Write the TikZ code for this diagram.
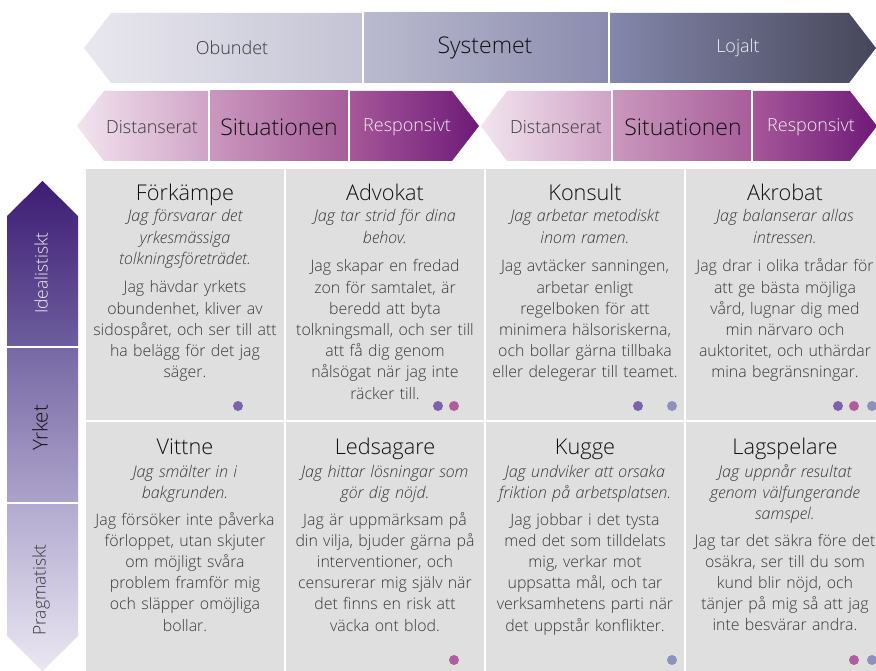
\documentclass[tikz,border=0pt]{standalone}
\usepackage{fontspec}
\IfFontExistsTF{Open Sans Light}{%
  \setmainfont{Open Sans}[UprightFont={* Light},ItalicFont={* Light Italic}]%
}{%
  \setmainfont{Open Sans}%
}
\definecolor{cellgray}{RGB}{223,223,223}
\definecolor{tA1}{HTML}{E9E8EF}\definecolor{tA2}{HTML}{C3C3D4}
\definecolor{tB1}{HTML}{BBBBCF}\definecolor{tB2}{HTML}{8A8BAE}
\definecolor{tC1}{HTML}{8587AB}\definecolor{tC2}{HTML}{46465A}
\definecolor{sA1}{HTML}{F2E4EE}\definecolor{sA2}{HTML}{CFA3C6}
\definecolor{sB1}{HTML}{CA98BE}\definecolor{sB2}{HTML}{A75D99}
\definecolor{sC1}{HTML}{A65899}\definecolor{sC2}{HTML}{6E1A78}
\definecolor{vA1}{HTML}{3E1C74}\definecolor{vA2}{HTML}{6D5E9D}
\definecolor{vB1}{HTML}{7768A5}\definecolor{vB2}{HTML}{ACA3CA}
\definecolor{vC1}{HTML}{B2AACF}\definecolor{vC2}{HTML}{EAE7F2}
\definecolor{dotP}{RGB}{123,99,170}
\definecolor{dotM}{RGB}{178,92,158}
\definecolor{dotL}{RGB}{142,144,190}
\definecolor{txt}{HTML}{383838}
\definecolor{ttl}{HTML}{101010}
\begin{document}
\begin{tikzpicture}[x=1pt,y=-1pt,
  lbl/.style={inner sep=0pt,anchor=center,text=txt,font=\fontsize{18}{21}\selectfont},
  biglbl/.style={inner sep=0pt,anchor=center,text=ttl,font=\fontsize{23}{27}\selectfont},
  whitelbl/.style={inner sep=0pt,anchor=center,text=white!94!black,font=\fontsize{18}{21}\selectfont},
  vlbl/.style={inner sep=0pt,anchor=center,text=txt,font=\fontsize{17.4}{20}\selectfont},
  vwhite/.style={inner sep=0pt,anchor=center,text=white!94!black,font=\fontsize{17.4}{20}\selectfont},
  vbig/.style={inner sep=0pt,anchor=center,text=ttl,font=\fontsize{20.5}{24}\selectfont},
  ttlnode/.style={inner sep=0pt,anchor=base,text=ttl,font=\fontsize{21.7}{25}\selectfont},
  itnode/.style={inner sep=0pt,anchor=base,text width=200pt,align=center,text=txt,font=\fontsize{16.1}{21.3}\selectfont\itshape},
  bodynode/.style={inner sep=0pt,anchor=base,text width=200pt,align=center,text=txt,font=\fontsize{15.9}{21.2}\selectfont},
  sep/.style={draw=white,line width=2pt}
]
\useasboundingbox (0,0) rectangle (876,671);
\clip (0,0) rectangle (876,671);
\fill[white] (0,0) rectangle (876,671);

% ---- top bar
\shade[left color=tA1,right color=tA2] (84,48) -- (111,13) -- (363,13) -- (363,83) -- (111,83) -- cycle;
\shade[left color=tB1,right color=tB2] (363,13) rectangle (609,83);
\shade[left color=tC1,right color=tC2] (609,13) -- (849,13) -- (876,48) -- (849,83) -- (609,83) -- cycle;
\draw[sep] (363,12) -- (363,84);
\draw[sep] (609,12) -- (609,84);
\node[lbl] (obundet) at (232,48) {Obundet};
\node[biglbl] (systemet) at (485,48) {Systemet};
\node[whitelbl] (lojalt) at (738,48) {Lojalt};

% ---- situation bars
\shade[left color=sA1,right color=sA2] (77,126) -- (104,91) -- (209,91) -- (209,161) -- (104,161) -- cycle;
\shade[left color=sB1,right color=sB2] (209,91) rectangle (349,161);
\shade[left color=sC1,right color=sC2] (349,91) -- (452,91) -- (479,126) -- (452,161) -- (349,161) -- cycle;
\shade[left color=sA1,right color=sA2] (481,126) -- (507,91) -- (612,91) -- (612,161) -- (507,161) -- cycle;
\shade[left color=sB1,right color=sB2] (612,91) rectangle (752,161);
\shade[left color=sC1,right color=sC2] (752,91) -- (850,91) -- (877,126) -- (850,161) -- (752,161) -- cycle;
\foreach \xx in {209,349,612,752} \draw[sep] (\xx,90) -- (\xx,162);
\node[lbl] (dist1) at (152,127) {Distanserat};
\node[biglbl] (sit1) at (279,127) {Situationen};
\node[whitelbl] (resp1) at (407,127) {Responsivt};
\node[lbl] (dist2) at (556,127) {Distanserat};
\node[biglbl] (sit2) at (683,127) {Situationen};
\node[whitelbl] (resp2) at (811,127) {Responsivt};

% ---- vertical bar
\shade[top color=vA1,bottom color=vA2] (42.5,181) -- (78,216) -- (78,347) -- (7,347) -- (7,216) -- cycle;
\shade[top color=vB1,bottom color=vB2] (7,347) rectangle (78,503);
\shade[top color=vC1,bottom color=vC2] (7,503) -- (78,503) -- (78,636) -- (42.5,671) -- (7,636) -- cycle;
\draw[sep] (6,347) -- (79,347);
\draw[sep] (6,503) -- (79,503);
\node[vwhite,rotate=90] (ideal) at (41,273) {Idealistiskt};
\node[vbig,rotate=90] (yrket) at (40,428) {Yrket};
\node[vlbl,rotate=90] (pragm) at (41,590) {Pragmatiskt};

% ---- cells
\foreach \cx in {86,286,486,686} {
  \fill[cellgray] (\cx,169) rectangle ++(198,251);
  \fill[cellgray] (\cx,422) rectangle ++(198,250);
}

% Förkämpe
\node[ttlnode] (t1) at (185,201) {Förkämpe};
\node[itnode] (i1) at (185,222) {Jag försvarar det\\yrkesmässiga\\tolkningsföreträdet.};
\node[bodynode] (b1) at (185,293) {Jag hävdar yrkets\\obundenhet, kliver av\\sidospåret, och ser till att\\ha belägg för det jag\\säger.};
% Advokat
\node[ttlnode] (t2) at (385,201) {Advokat};
\node[itnode] (i2) at (385,222) {Jag tar strid för dina\\behov.};
\node[bodynode] (b2) at (385,272) {Jag skapar en fredad\\zon för samtalet, är\\beredd att byta\\tolkningsmall, och ser till\\att få dig genom\\nålsögat när jag inte\\räcker till.};
% Konsult
\node[ttlnode] (t3) at (585,201) {Konsult};
\node[itnode] (i3) at (585,222) {Jag arbetar metodiskt\\inom ramen.};
\node[bodynode] (b3) at (585,272) {Jag avtäcker sanningen,\\arbetar enligt\\regelboken för att\\minimera hälsoriskerna,\\och bollar gärna tillbaka\\eller delegerar till teamet.};
% Akrobat
\node[ttlnode] (t4) at (785,201) {Akrobat};
\node[itnode] (i4) at (785,222) {Jag balanserar allas\\intressen.};
\node[bodynode] (b4) at (785,272) {Jag drar i olika trådar för\\att ge bästa möjliga\\vård, lugnar dig med\\min närvaro och\\auktoritet, och uthärdar\\mina begränsningar.};

% Vittne
\node[ttlnode] (t5) at (185,454) {Vittne};
\node[itnode] (i5) at (185,477) {Jag smälter in i\\bakgrunden.};
\node[bodynode] (b5) at (185,525) {Jag försöker inte påverka\\förloppet, utan skjuter\\om möjligt svåra\\problem framför mig\\och släpper omöjliga\\bollar.};
% Ledsagare
\node[ttlnode] (t6) at (385,454) {Ledsagare};
\node[itnode] (i6) at (385,477) {Jag hittar lösningar som\\gör dig nöjd.};
\node[bodynode] (b6) at (385,525) {Jag är uppmärksam på\\din vilja, bjuder gärna på\\interventioner, och\\censurerar mig själv när\\det finns en risk att\\väcka ont blod.};
% Kugge
\node[ttlnode] (t7) at (585,454) {Kugge};
\node[itnode] (i7) at (585,477) {Jag undviker att orsaka\\friktion på arbetsplatsen.};
\node[bodynode] (b7) at (585,525) {Jag jobbar i det tysta\\med det som tilldelats\\mig, verkar mot\\uppsatta mål, och tar\\verksamhetens parti när\\det uppstår konflikter.};
% Lagspelare
\node[ttlnode] (t8) at (785,454) {Lagspelare};
\node[itnode] (i8) at (785,477) {Jag uppnår resultat\\genom välfungerande\\samspel.};
\node[bodynode] (b8) at (785,546) {Jag tar det säkra före det\\osäkra, ser till du som\\kund blir nöjd, och\\tänjer på mig så att jag\\inte besvärar andra.};

% dots
\fill[dotP] (238,406) circle (5);
\fill[dotP] (438,406) circle (5);
\fill[dotM] (454,406) circle (5);
\fill[dotP] (638,406) circle (5);
\fill[dotL] (672,406) circle (5);
\fill[dotP] (838,406) circle (5);
\fill[dotM] (854,406) circle (5);
\fill[dotL] (872,406) circle (5);
\fill[dotM] (454,660) circle (5);
\fill[dotL] (672,660) circle (5);
\fill[dotM] (854,660) circle (5);
\fill[dotL] (872,660) circle (5);
\end{tikzpicture}
\end{document}
